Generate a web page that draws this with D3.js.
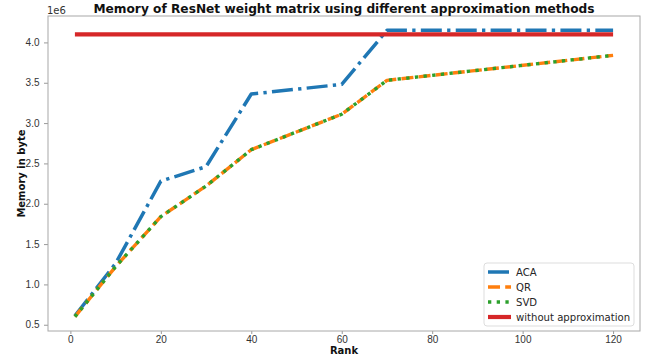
<!DOCTYPE html>
<html>
<head>
<meta charset="utf-8">
<script src="https://cdn.jsdelivr.net/npm/d3@7"></script>
<style>
  html, body { margin: 0; padding: 0; background: #fff; }
  svg { display: block; font-family: 'DejaVu Sans', sans-serif; }
  .axis text { font-size: 10px; fill: #333; }
  .axis line { stroke: #999; }
  .axis path { display: none; }
</style>
</head>
<body>
<svg id="chart" width="656" height="360"></svg>
<script>
// ranks on the x axis
const ranks = [1, 10, 20, 30, 40, 60, 70, 120];
// memory values, in units of 1e6 bytes
const acaValues = [0.61, 1.26, 2.28, 2.46, 3.36, 3.48, 4.15, 4.15];
const qrValues = [0.60, 1.22, 1.84, 2.22, 2.67, 3.11, 3.53, 3.84];
const svdValues = [0.60, 1.22, 1.84, 2.22, 2.67, 3.11, 3.53, 3.84];
const fullValues = [4.1, 4.1, 4.1, 4.1, 4.1, 4.1, 4.1, 4.1];
const xTicks = [0, 20, 40, 60, 80, 100, 120];
const yTicks = [0.5, 1.0, 1.5, 2.0, 2.5, 3.0, 3.5, 4.0];

const series = [
  { name: 'ACA', values: acaValues, color: '#1f77b4', dash: '21,5.3,3.3,5.3', width: 3.5 },
  { name: 'QR', values: qrValues, color: '#ff7f0e', dash: '12,5.2', width: 3.4 },
  { name: 'SVD', values: svdValues, color: '#2ca02c', dash: '3.3,5.4', width: 3.4 },
  { name: 'without approximation', values: fullValues, color: '#d62728', dash: null, width: 4.2 }
];

const svg = d3.select('#chart');
const plotLeft = 48, plotRight = 640, plotTop = 16, plotBottom = 331;

const x = d3.scaleLinear().domain([-4.95, 125.95]).range([plotLeft, plotRight]);
const y = d3.scaleLinear().domain([0.4225, 4.3275]).range([plotBottom, plotTop]);

svg.append('g')
  .attr('class', 'axis')
  .attr('transform', `translate(0,${plotBottom})`)
  .call(d3.axisBottom(x).tickValues(xTicks).tickSize(3).tickPadding(1.5).tickFormat(d3.format('d')));
svg.append('g')
  .attr('class', 'axis')
  .attr('transform', `translate(${plotLeft},0)`)
  .call(d3.axisLeft(y).tickValues(yTicks).tickSize(4).tickPadding(4.5).tickFormat(d3.format('.1f')));

const line = d3.line().x((d) => x(d[0])).y((d) => y(d[1]));

svg.append('g')
  .selectAll('path')
  .data(series)
  .join('path')
  .attr('d', (s) => line(ranks.map((r, i) => [r, s.values[i]])))
  .attr('fill', 'none')
  .attr('stroke', (s) => s.color)
  .attr('stroke-width', (s) => s.width)
  .attr('stroke-dasharray', (s) => s.dash)
  .attr('stroke-linejoin', 'round');

// axes frame
svg.append('rect')
  .attr('x', plotLeft).attr('y', plotTop)
  .attr('width', plotRight - plotLeft).attr('height', plotBottom - plotTop)
  .attr('fill', 'none')
  .attr('stroke', '#a8a8a8')
  .attr('stroke-width', 1);

svg.append('text')
  .attr('x', plotLeft - 1).attr('y', plotTop - 2)
  .attr('font-size', 10).attr('fill', '#333')
  .text('1e6');

svg.append('text')
  .attr('x', (plotLeft + plotRight) / 2).attr('y', 13)
  .attr('text-anchor', 'middle')
  .attr('font-size', 12.2).attr('font-weight', 'bold').attr('fill', '#111')
  .text('Memory of ResNet weight matrix using different approximation methods');

svg.append('text')
  .attr('x', (plotLeft + plotRight) / 2).attr('y', 354)
  .attr('text-anchor', 'middle')
  .attr('font-size', 10).attr('font-weight', 'bold').attr('fill', '#111')
  .text('Rank');

svg.append('text')
  .attr('transform', `translate(25,${(plotTop + plotBottom) / 2}) rotate(-90)`)
  .attr('text-anchor', 'middle')
  .attr('font-size', 10).attr('font-weight', 'bold').attr('fill', '#111')
  .text('Memory in byte');

// legend
const legend = svg.append('g').attr('transform', 'translate(484,263)');
legend.append('rect')
  .attr('width', 150).attr('height', 63).attr('rx', 3)
  .attr('fill', '#fff').attr('fill-opacity', 0.8)
  .attr('stroke', '#ddd');
const items = legend.selectAll('g.item')
  .data(series)
  .join('g')
  .attr('class', 'item')
  .attr('transform', (d, i) => `translate(0,${9 + i * 15})`);
items.append('line')
  .attr('x1', 4).attr('x2', 27)
  .attr('stroke', (d) => d.color)
  .attr('stroke-width', (d) => d.width)
  .attr('stroke-dasharray', (d) => d.dash);
items.append('text')
  .attr('x', 32).attr('y', 3.8)
  .attr('font-size', 10.1).attr('fill', '#262626')
  .text((d) => d.name);
</script>
</body>
</html>
